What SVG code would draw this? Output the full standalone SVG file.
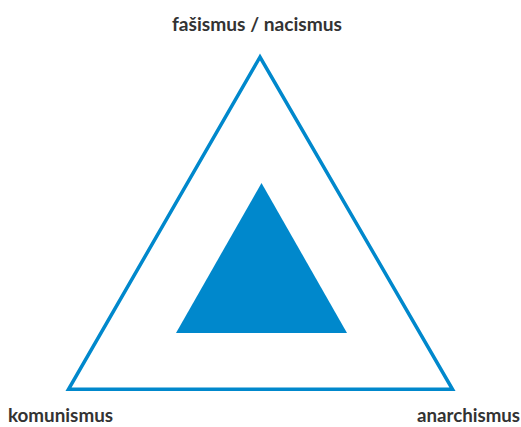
<svg xmlns="http://www.w3.org/2000/svg" width="521" height="427" viewBox="0 0 521 427">
<style>
.lbl{font-family:"Lato","Open Sans","Liberation Sans",sans-serif;font-size:19px;font-weight:bold;fill:#333333}
.outer{fill:none;stroke:#0088CC;stroke-width:3.5;stroke-linejoin:miter}
.inner{fill:#0088CC;stroke:none}
</style>
<rect width="521" height="427" fill="#ffffff"/>
<g id="connectors"></g>
<g id="outer-triangle"><polygon class="outer" points="260,57 68.5,389.3 452.5,389.3"/></g>
<g id="inner-triangle"><polygon class="inner" points="261.5,183 176,333 347,333"/></g>
<g id="fasismus"><text class="lbl" x="257" y="31" text-anchor="middle" textLength="170" lengthAdjust="spacingAndGlyphs">fašismus / nacismus</text></g>
<g id="komunismus"><text class="lbl" x="8" y="422" textLength="105" lengthAdjust="spacingAndGlyphs">komunismus</text></g>
<g id="anarchismus"><text class="lbl" x="417" y="422" textLength="103" lengthAdjust="spacingAndGlyphs">anarchismus</text></g>
</svg>
